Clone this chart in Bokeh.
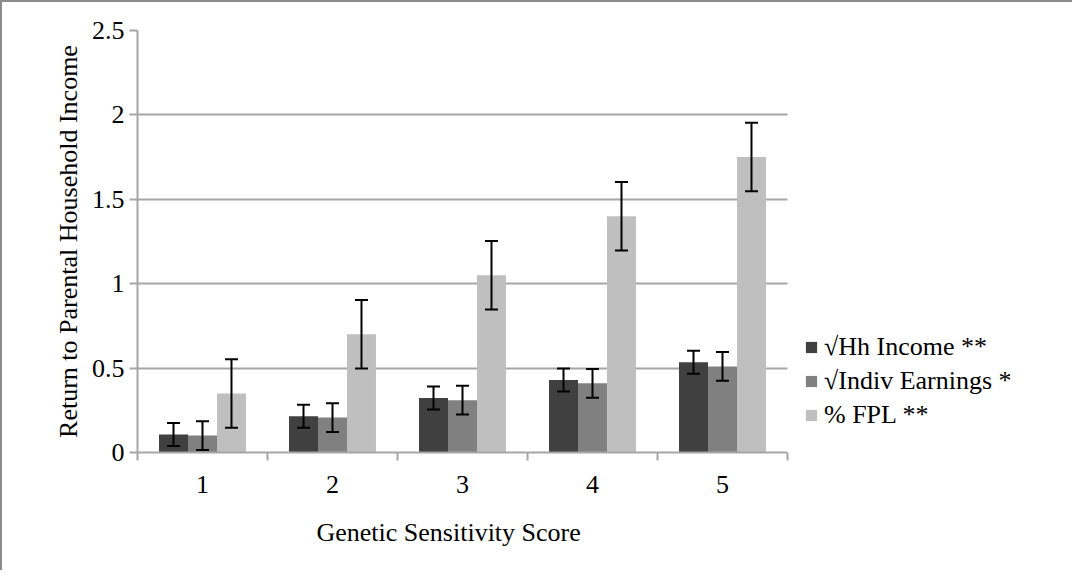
from bokeh.plotting import figure
from bokeh.models import ColumnDataSource, Whisker, FixedTicker, Legend, LegendItem, TeeHead, Title
from bokeh.transform import dodge
from bokeh.embed import file_html
from bokeh.resources import INLINE

categories = ["1", "2", "3", "4", "5"]
series_names = ["\u221aHh Income **", "\u221aIndiv Earnings *", "% FPL **"]
hh_income = [0.107, 0.215, 0.323, 0.430, 0.535]
hh_err = [0.068, 0.068, 0.068, 0.068, 0.068]
indiv_earn = [0.100, 0.207, 0.310, 0.410, 0.510]
indiv_err = [0.085, 0.085, 0.085, 0.085, 0.085]
fpl = [0.350, 0.700, 1.050, 1.400, 1.750]
fpl_err = [0.203, 0.203, 0.203, 0.203, 0.203]
colors = ["#404040", "#808080", "#bfbfbf"]
y_ticks = [0, 0.5, 1, 1.5, 2, 2.5]
y_tick_labels = ["0", "0.5", "1", "1.5", "2", "2.5"]
x_title = "Genetic Sensitivity Score"
y_title = "Return to Parental Household Income"

FONT = "Liberation Serif"
FS = "26px"
xpos = [i + 1 for i in range(len(categories))]
x_lo, x_hi = 0.5, len(categories) + 0.5

W, H = 1072, 570
LEFT, RIGHT, TOP, BOTTOM = 135, 2, 28, 120
CAT_PX = 130  # pixel width of one category
frame_w = W - LEFT - RIGHT

p = figure(width=W, height=H, output_backend="svg", toolbar_location=None,
           x_range=(x_lo, x_lo + frame_w / CAT_PX), y_range=(0, 2.5),
           min_border_left=LEFT, min_border_right=RIGHT, min_border_top=TOP, min_border_bottom=BOTTOM)
p.styles = {"border-left": "2px solid #8c8c8c", "border-top": "2px solid #8c8c8c"}
p.outline_line_color = None
p.background_fill_color = "white"

series = [(hh_income, hh_err), (indiv_earn, indiv_err), (fpl, fpl_err)]
offsets = [-0.223, 0.0, 0.223]
renderers = []
for (vals, errs), off, col in zip(series, offsets, colors):
    src = ColumnDataSource(dict(x=xpos, top=vals,
                                lower=[v - e for v, e in zip(vals, errs)],
                                upper=[v + e for v, e in zip(vals, errs)]))
    r = p.vbar(x=dodge("x", off, range=p.x_range), top="top", width=0.223, bottom=0,
               source=src, fill_color=col, line_color=None)
    renderers.append(r)
    w = Whisker(base=dodge("x", off, range=p.x_range), lower="lower", upper="upper", source=src,
                line_color="black", line_width=2, level="overlay",
                upper_head=TeeHead(size=13, line_color="black", line_width=2),
                lower_head=TeeHead(size=13, line_color="black", line_width=2))
    p.add_layout(w)

# axes / grid
p.xgrid.grid_line_color = None
p.ygrid.grid_line_color = "#a6a6a6"
p.ygrid.grid_line_width = 2
p.ygrid.cross_bounds = (x_lo, x_hi)
p.yaxis.ticker = FixedTicker(ticks=y_ticks)
p.yaxis.major_label_overrides = {t: l for t, l in zip(y_ticks, y_tick_labels)}
p.xaxis.ticker = FixedTicker(ticks=xpos, minor_ticks=[x - 0.5 for x in xpos] + [xpos[-1] + 0.5])
p.xaxis.major_label_overrides = {x: c for x, c in zip(xpos, categories)}
p.xaxis.bounds = (x_lo, x_hi)

for ax in (p.xaxis[0], p.yaxis[0]):
    ax.axis_line_color = "#a6a6a6"
    ax.axis_line_width = 2
    ax.major_label_text_font = FONT
    ax.major_label_text_font_size = FS
    ax.major_label_text_color = "black"
    ax.axis_label_text_font = FONT
    ax.axis_label_text_font_size = FS
    ax.axis_label_text_font_style = "normal"
    ax.axis_label_text_color = "black"

p.yaxis.major_tick_line_color = "#a6a6a6"
p.yaxis.major_tick_line_width = 2
p.yaxis.major_tick_in = 0
p.yaxis.major_tick_out = 8
p.yaxis.minor_tick_line_color = None
p.yaxis.major_label_standoff = 5
p.yaxis.axis_label = y_title
p.yaxis.axis_label_standoff = 6

p.xaxis.major_tick_line_color = None
p.xaxis.minor_tick_line_color = "#a6a6a6"
p.xaxis.minor_tick_line_width = 2
p.xaxis.minor_tick_in = 0
p.xaxis.minor_tick_out = 8
p.xaxis.major_label_standoff = 15

# x-axis title, centred under the category area (not the legend area)
p.add_layout(Title(text=x_title, align="left", offset=179, standoff=40,
                   text_font=FONT, text_font_size=FS, text_font_style="normal",
                   text_color="black"), "below")

legend = Legend(items=[LegendItem(label=n, renderers=[r]) for n, r in zip(series_names, renderers)],
                location=(CAT_PX * len(categories) + 17, 22), orientation="vertical",
                label_text_font=FONT, label_text_font_size=FS, label_text_color="black",
                glyph_width=14, glyph_height=14, label_standoff=6, spacing=4,
                padding=0, margin=0, border_line_color=None, background_fill_alpha=0)
p.add_layout(legend, "center")

open("out.html", "w").write(file_html(p, INLINE))
